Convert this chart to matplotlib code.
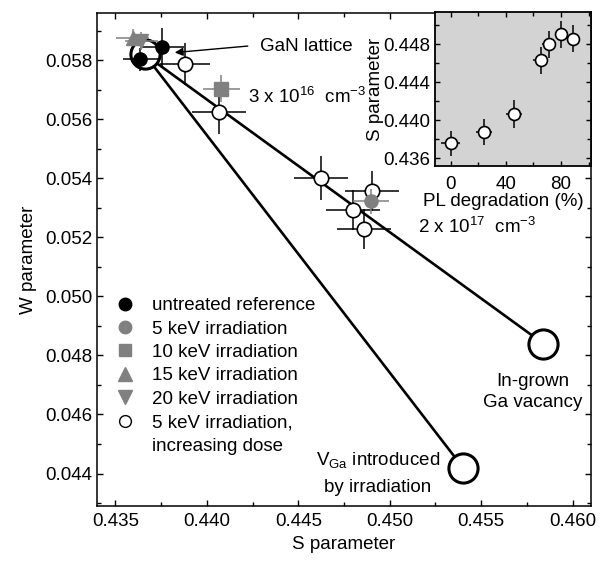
import matplotlib
matplotlib.use('Agg')
import matplotlib.pyplot as plt
from matplotlib.lines import Line2D
from matplotlib.ticker import MultipleLocator, FormatStrFormatter

plt.rcParams['font.family'] = ['Liberation Sans', 'DejaVu Sans']
plt.rcParams['mathtext.fontset'] = 'custom'
plt.rcParams['mathtext.rm'] = 'Liberation Sans'
plt.rcParams['mathtext.it'] = 'Liberation Sans:italic'
plt.rcParams['mathtext.bf'] = 'Liberation Sans:bold'

FS = 13.5
GRAY = '#808080'

# ---------------- data (main panel) ----------------
ref_S = [0.43637, 0.43755]
ref_W = [0.05803, 0.05845]
ref_Serr = [0.00095, 0.0012]
ref_Werr = [0.0004, 0.00065]

kev5_S = [0.44898]
kev5_W = [0.05322]
kev5_Serr = [0.0010]
kev5_Werr = [0.00042]

kev10_S = [0.4408]
kev10_W = [0.05704]
kev10_Serr = [0.0010]
kev10_Werr = [0.00047]

kev15_S = [0.43596]
kev15_W = [0.05877]
kev15_Serr = [0.0009]
kev15_Werr = [0.0003]

kev20_S = [0.43642]
kev20_W = [0.05866]
kev20_Serr = [0.0009]
kev20_Werr = [0.0003]

dose_S = [0.43879, 0.44067, 0.44624, 0.44902, 0.44798, 0.44860]
dose_W = [0.05786, 0.05624, 0.05402, 0.05356, 0.05292, 0.05229]
dose_Serr = [0.00137, 0.00148, 0.00150, 0.00146, 0.00148, 0.00148]
dose_Werr = [0.00071, 0.00075, 0.00074, 0.00068, 0.00068, 0.00068]

lattice_S, lattice_W = 0.4366, 0.0582
ingrown_S, ingrown_W = 0.4584, 0.0484
vga_S, vga_W = 0.4540, 0.0442

# ---------------- data (inset) ----------------
pl_deg = [0, 24, 46, 65.3, 70.9, 79.8, 88.4]
pl_S = [0.4376, 0.43876, 0.44068, 0.44632, 0.4480, 0.44906, 0.4486]
pl_deg_err = [7, 6, 6, 5.5, 4.5, 4, 4]
pl_S_err = [0.0013, 0.0014, 0.0015, 0.0014, 0.0014, 0.0014, 0.0014]

legend_labels = ['untreated reference', '5 keV irradiation', '10 keV irradiation',
                 '15 keV irradiation', '20 keV irradiation', '5 keV irradiation,',
                 'increasing dose']

fig = plt.figure(figsize=(6.05, 5.61), dpi=100)
ax = fig.add_axes([97/605, 1-506/561, 494/605, 493/561])

# lines between the characteristic points
ax.plot([lattice_S, ingrown_S], [lattice_W, ingrown_W], '-', color='k', lw=1.9, zorder=1)
ax.plot([lattice_S, vga_S], [lattice_W, vga_W], '-', color='k', lw=1.9, zorder=1)
ax.plot([lattice_S, ingrown_S, vga_S], [lattice_W, ingrown_W, vga_W], 'o', ls='none',
        ms=21, mfc='white', mec='k', mew=2.2, zorder=2)

eb = dict(capsize=0, elinewidth=1.1, ls='none')
ax.errorbar(dose_S, dose_W, xerr=dose_Serr, yerr=dose_Werr, fmt='o', ms=10.4,
            mfc='white', mec='k', mew=1.2, ecolor='k', zorder=3, **eb)
ax.errorbar(ref_S, ref_W, xerr=ref_Serr, yerr=ref_Werr, fmt='o', ms=9.5,
            mfc='k', mec='k', ecolor='k', zorder=4, **eb)
ax.errorbar(kev5_S, kev5_W, xerr=kev5_Serr, yerr=kev5_Werr, fmt='o', ms=9.5,
            mfc=GRAY, mec=GRAY, ecolor=GRAY, zorder=4, **eb)
ax.errorbar(kev10_S, kev10_W, xerr=kev10_Serr, yerr=kev10_Werr, fmt='s', ms=9.5,
            mfc=GRAY, mec=GRAY, ecolor=GRAY, zorder=4, **eb)
ax.errorbar(kev15_S, kev15_W, xerr=kev15_Serr, yerr=kev15_Werr, fmt='^', ms=10,
            mfc=GRAY, mec=GRAY, ecolor=GRAY, zorder=4, **eb)
ax.errorbar(kev20_S, kev20_W, xerr=kev20_Serr, yerr=kev20_Werr, fmt='v', ms=10,
            mfc=GRAY, mec=GRAY, ecolor=GRAY, zorder=4, **eb)

ax.set_xlim(0.4340, 0.4610)
ax.set_ylim(0.0429, 0.0596)
ax.xaxis.set_major_locator(MultipleLocator(0.005))
ax.xaxis.set_minor_locator(MultipleLocator(0.0025))
ax.yaxis.set_major_locator(MultipleLocator(0.002))
ax.yaxis.set_minor_locator(MultipleLocator(0.001))
ax.xaxis.set_major_formatter(FormatStrFormatter('%.3f'))
ax.yaxis.set_major_formatter(FormatStrFormatter('%.3f'))
ax.tick_params(which='both', direction='in', top=True, right=True, labelsize=FS, width=1.0)
ax.tick_params(which='major', length=4.5, pad=5)
ax.tick_params(which='minor', length=3)
ax.tick_params(axis='y', which='major', pad=3.5)
for s in ax.spines.values():
    s.set_linewidth(1.1)
ax.set_xlabel('S parameter', fontsize=FS)
ax.set_ylabel('W parameter', fontsize=FS)
ax.xaxis.set_label_coords(0.5, -0.060)
ax.yaxis.set_label_coords(-0.121, 0.5)

# legend
handles = [
    Line2D([], [], ls='none', marker='o', color='k', ms=9),
    Line2D([], [], ls='none', marker='o', color=GRAY, ms=9),
    Line2D([], [], ls='none', marker='s', color=GRAY, ms=8.5),
    Line2D([], [], ls='none', marker='^', color=GRAY, ms=9.5),
    Line2D([], [], ls='none', marker='v', color=GRAY, ms=9.5),
    Line2D([], [], ls='none', marker='o', mfc='white', mec='k', mew=1.0, ms=8.5),
    Line2D([], [], ls='none', marker=None),
]
ax.legend(handles, legend_labels, loc='upper left', bbox_to_anchor=(0.0377, 0.424),
          frameon=False, fontsize=FS, handlelength=1.0, handletextpad=0.94,
          labelspacing=0.336, borderpad=0, borderaxespad=0)

# annotations
ax.annotate('', xy=(0.43825, 0.05826), xytext=(0.44224, 0.05848),
            arrowprops=dict(arrowstyle='-|>', color='k', lw=1.0, mutation_scale=12,
                            shrinkA=0, shrinkB=0))
ax.text(0.330, 0.9235, 'GaN lattice', transform=ax.transAxes, fontsize=FS, va='baseline')
ax.text(0.306, 0.818, r'3 x 10$^{16}$  cm$^{-3}$', transform=ax.transAxes, fontsize=FS,
        va='baseline')
ax.text(0.650, 0.554, r'2 x 10$^{17}$  cm$^{-3}$', transform=ax.transAxes, fontsize=FS,
        va='baseline')
ax.text(0.8826, 0.244, 'In-grown', transform=ax.transAxes, fontsize=FS, ha='center', va='baseline')
ax.text(0.8826, 0.2002, 'Ga vacancy', transform=ax.transAxes, fontsize=FS, ha='center', va='baseline')
ax.text(0.569, 0.0832, r'V$_{\mathrm{Ga}}$ introduced', transform=ax.transAxes, fontsize=FS,
        ha='center', va='baseline')
ax.text(0.569, 0.029, 'by irradiation', transform=ax.transAxes, fontsize=FS, ha='center', va='baseline')

# ---------------- inset ----------------
ins = fig.add_axes([435/605, 1-166/561, 156/605, 154/561])
ins.set_facecolor('#d3d3d3')
ins.errorbar(pl_deg, pl_S, xerr=pl_deg_err, yerr=pl_S_err, fmt='o', ms=8.6,
             mfc='white', mec='k', mew=1.2, ecolor='k', capsize=0, elinewidth=1.1)
ins.set_xlim(-11.4, 101.7)
ins.set_ylim(0.4352, 0.4514)
ins.xaxis.set_major_locator(MultipleLocator(40))
ins.xaxis.set_minor_locator(MultipleLocator(20))
ins.yaxis.set_major_locator(MultipleLocator(0.004))
ins.yaxis.set_minor_locator(MultipleLocator(0.002))
ins.yaxis.set_major_formatter(FormatStrFormatter('%.3f'))
ins.tick_params(which='both', direction='in', top=True, right=True, labelsize=FS, width=1.0)
ins.tick_params(which='major', length=3.5)
ins.tick_params(which='minor', length=3)
ins.tick_params(axis='x', which='major', pad=7)
for s in ins.spines.values():
    s.set_linewidth(1.3)
ins.set_ylabel('S parameter', fontsize=FS)
ins.set_xlabel('PL degradation (%)', fontsize=FS)
ins.xaxis.set_label_coords(0.436, -0.178)
ins.yaxis.set_label_coords(-0.33, 0.5)

fig.savefig('out.png', dpi=100)
